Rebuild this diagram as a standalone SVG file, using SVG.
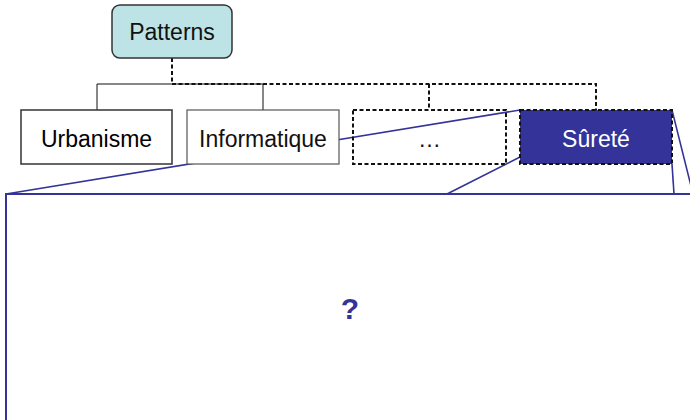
<svg xmlns="http://www.w3.org/2000/svg" width="690" height="420" viewBox="0 0 690 420">
  <style>
    .lbl { font-family: "Liberation Sans", Arial, sans-serif; font-size: 23px; text-anchor: middle; fill: #111; }
    .tree { fill: none; stroke: #111; stroke-width: 1; }
    .dash { fill: none; stroke: #111; stroke-width: 2; stroke-dasharray: 4 2.5; }
    .lens { fill: none; stroke: #333399; stroke-width: 1.6; }
    .box { fill: #fff; stroke: #333; stroke-width: 1.5; }
  </style>
  <rect width="690" height="420" fill="#fff"/>

  <!-- zoom lens: detail panel and projection lines from the selected category -->
  <g id="detail">
    <rect x="6" y="194" width="687" height="240" fill="#fff" stroke="#333399" stroke-width="2"/>
    <text x="350" y="319" font-family="'Liberation Sans', Arial, sans-serif" font-size="30" font-weight="bold" fill="#333399" text-anchor="middle">?</text>
  </g>
  <g id="lens-lines">
    <line class="lens" x1="6" y1="194" x2="520" y2="110"/>
    <line class="lens" x1="520" y1="157" x2="447" y2="194"/>
    <line class="lens" x1="672" y1="110" x2="693" y2="194"/>
    <line class="lens" x1="672" y1="164" x2="674" y2="194"/>
  </g>

  <!-- hierarchy connectors -->
  <g id="connectors">
    <polyline class="tree" points="97,110 97,84 172,84"/>
    <polyline class="tree" points="172,84 263,84 263,110"/>
    <polyline class="dash" points="172,58 172,84 596,84 596,110"/>
    <line class="dash" x1="429" y1="84" x2="429" y2="110"/>
  </g>

  <g id="patterns">
    <rect x="112" y="5" width="120" height="53" rx="8" fill="#bde3e6" stroke="#333" stroke-width="1.5"/>
    <text class="lbl" x="172" y="40">Patterns</text>
  </g>
  <g id="urbanisme">
    <rect class="box" x="21" y="110" width="151" height="54"/>
    <text class="lbl" x="96.5" y="147" style="fill:#000">Urbanisme</text>
  </g>
  <g id="informatique">
    <rect x="187" y="110" width="152" height="54" fill="#fff" stroke="#555" stroke-width="1.2"/>
    <text class="lbl" x="263" y="147">Informatique</text>
  </g>
  <g id="autres">
    <rect class="dash" x="353" y="110" width="153" height="54" fill="#fff"/>
    <text class="lbl" x="429.5" y="147">…</text>
  </g>
  <g id="surete">
    <rect x="520" y="110" width="152" height="54" fill="#333399" stroke="#111" stroke-width="2" stroke-dasharray="4 2.5"/>
    <text class="lbl" x="596" y="147" style="fill:#fff">Sûreté</text>
  </g>
</svg>
